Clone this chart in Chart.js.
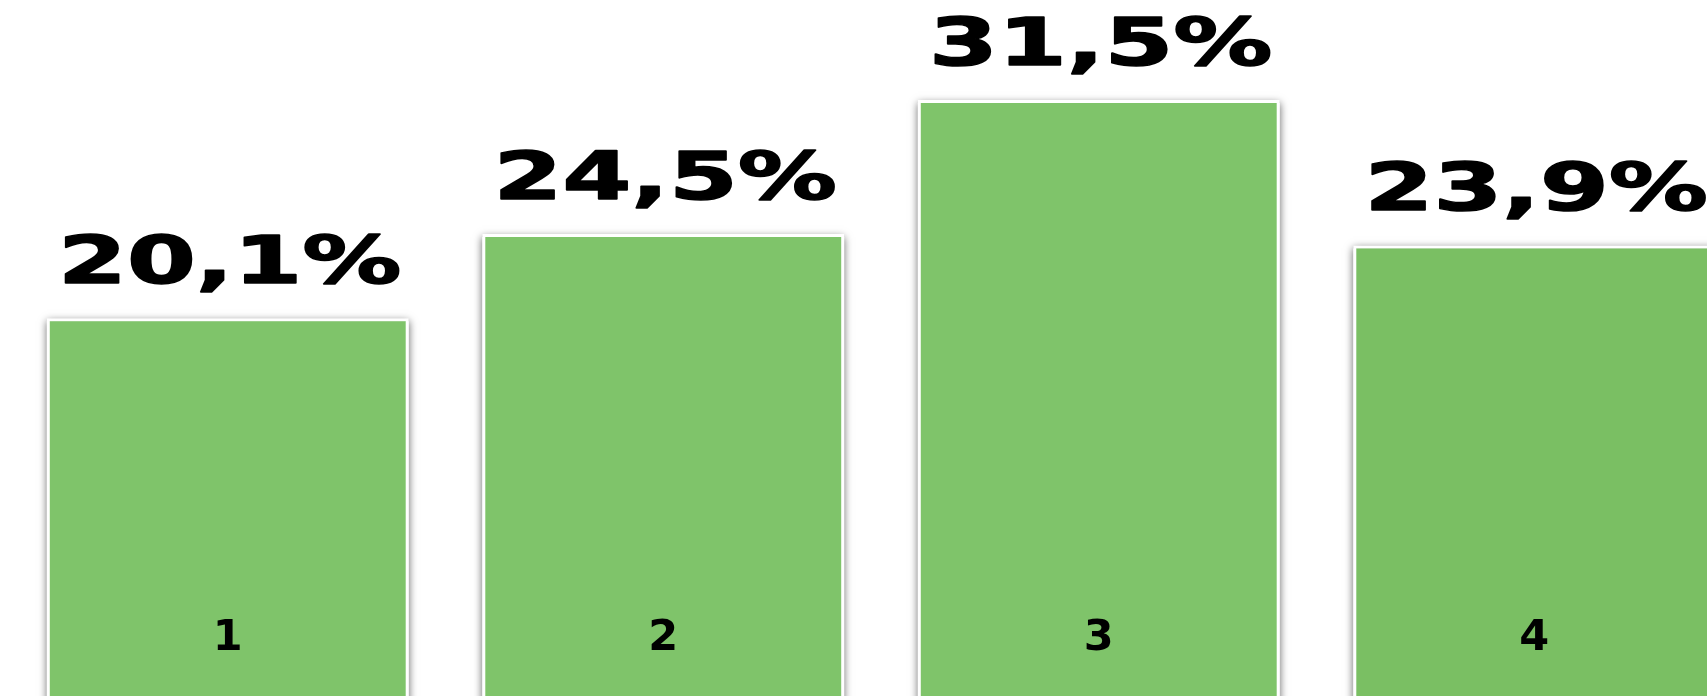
<!DOCTYPE html>
<html lang="es">
<head>
<meta charset="utf-8">
<title>Porcentajes</title>
<script src="https://cdn.jsdelivr.net/npm/chart.js@4"></script>
<style>
  html, body { margin: 0; padding: 0; background: #fff; overflow: hidden; }
  #grafico { display: block; }
</style>
</head>
<body>
<canvas id="grafico" width="1752" height="703"></canvas>
<script>
// Datos del gráfico
const categorias = ['1', '2', '3', '4'];
const valores = [20.1, 24.5, 31.5, 23.9];
const colores = ['#7fc46a', '#7fc46a', '#7fc46a', '#7abf63'];

// Sombra gris alrededor de cada barra
const sombraBarras = {
  id: 'sombraBarras',
  beforeDatasetsDraw(chart) {
    const ctx = chart.ctx;
    const meta = chart.getDatasetMeta(0);
    ctx.save();
    ctx.shadowColor = 'rgba(0, 0, 0, 0.6)';
    ctx.shadowBlur = 8;
    ctx.fillStyle = '#ffffff';
    meta.data.forEach(barra => {
      const { x, y, base, width } = barra.getProps(['x', 'y', 'base', 'width'], true);
      ctx.fillRect(x - width / 2, y + 3, width, base - y);
    });
    ctx.restore();
  }
};

// Etiquetas: porcentaje encima y categoría dentro de la barra
const etiquetas = {
  id: 'etiquetas',
  afterDatasetsDraw(chart) {
    const ctx = chart.ctx;
    const meta = chart.getDatasetMeta(0);
    const abajo = chart.chartArea.bottom;

    meta.data.forEach((barra, i) => {
      const texto = valores[i].toFixed(1).replace('.', ',') + '%';
      ctx.save();
      ctx.translate(barra.x + 2, barra.y - 35);
      ctx.scale(1.5, 1);
      ctx.font = 'bold 66px "DejaVu Sans"';
      ctx.fillStyle = '#000';
      ctx.strokeStyle = '#000';
      ctx.lineWidth = 1.5;
      ctx.lineJoin = 'round';
      ctx.textAlign = 'center';
      ctx.textBaseline = 'alphabetic';
      ctx.fillText(texto, 0, 0);
      ctx.strokeText(texto, 0, 0);
      ctx.restore();

      ctx.save();
      ctx.font = 'bold 43px "DejaVu Sans"';
      ctx.fillStyle = '#000';
      ctx.textAlign = 'center';
      ctx.textBaseline = 'alphabetic';
      ctx.fillText(categorias[i], barra.x, abajo - 53);
      ctx.restore();
    });
  }
};

const ctx = document.getElementById('grafico').getContext('2d');

new Chart(ctx, {
  type: 'bar',
  data: {
    labels: categorias,
    datasets: [{
      data: valores,
      backgroundColor: colores,
      borderColor: '#ffffff',
      borderWidth: 3,
      borderSkipped: false,
      categoryPercentage: 1,
      barPercentage: 0.831
    }]
  },
  options: {
    responsive: false,
    animation: false,
    layout: { padding: { left: 10, top: 33, right: 0, bottom: 0 } },
    scales: {
      x: { display: false },
      y: { display: false, min: 0, max: 35 }
    },
    plugins: {
      legend: { display: false },
      tooltip: { enabled: false }
    }
  },
  plugins: [sombraBarras, etiquetas]
});
</script>
</body>
</html>
